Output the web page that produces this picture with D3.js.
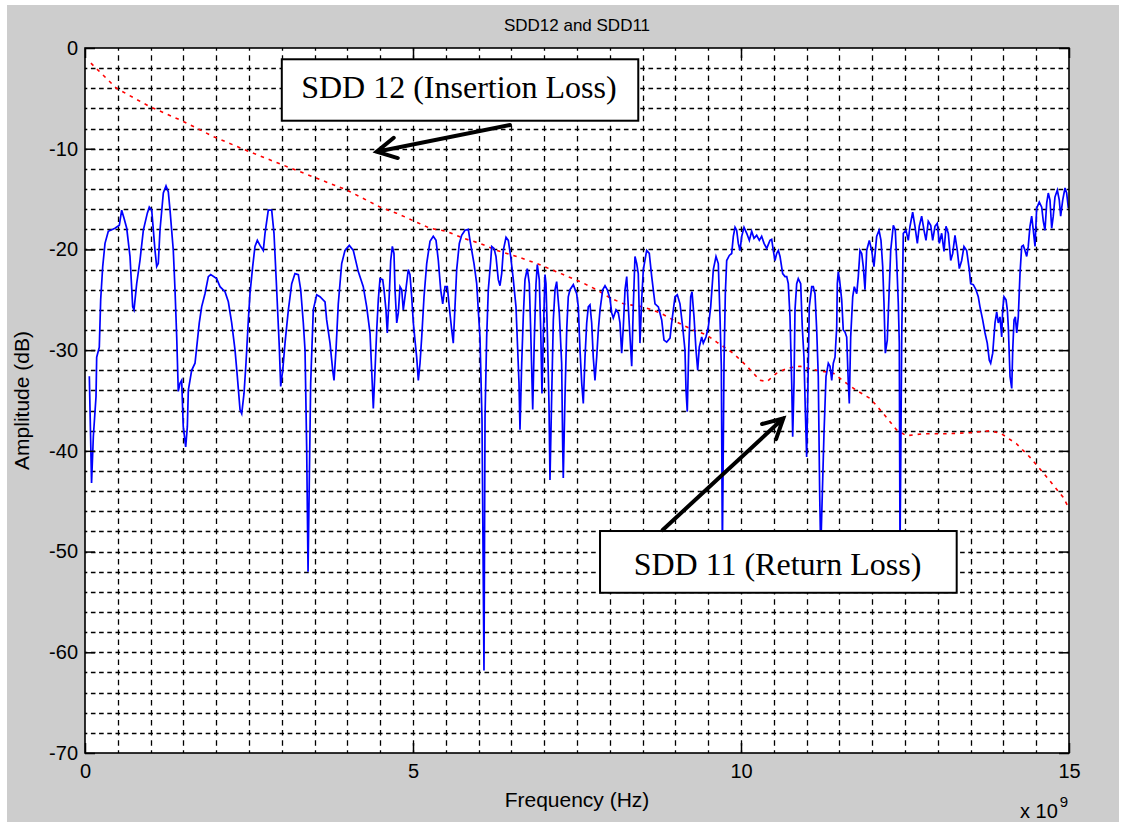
<!DOCTYPE html>
<html>
<head>
<meta charset="utf-8">
<script src="https://cdn.jsdelivr.net/npm/d3@7"></script>
<style>
  html, body { margin: 0; padding: 0; background: #fff; }
  svg { display: block; }
  .axis text { font-family: "Liberation Sans", Arial, sans-serif; font-size: 20px; fill: #000; }
  .axis line { stroke: #000; }
  .lbl { font-family: "Liberation Sans", Arial, sans-serif; fill: #000; }
  .note { font-family: "Liberation Serif", "Times New Roman", serif; font-size: 32px; fill: #000; }
</style>
</head>
<body>
<svg id="chart"></svg>
<script>
// tick labels (x in GHz, shown with the x 10^9 multiplier)
const xTicks = [0, 5, 10, 15];
const yTicks = [0, -10, -20, -30, -40, -50, -60, -70];
const gridStepX = 0.5, gridStepY = 2;

// SDD11 (return loss): frequency in GHz / amplitude in dB
const sdd11Freq = [
  0.066,0.100,0.127,0.168,0.178,0.218,0.239,0.270,0.305,0.355,
  0.457,0.523,0.559,0.595,0.636,0.686,0.727,0.747,0.788,0.838,
  0.889,0.950,0.980,1.017,1.067,1.093,1.117,1.143,1.194,1.235,
  1.270,1.296,1.346,1.372,1.398,1.422,1.448,1.474,1.498,1.535,
  1.560,1.575,1.626,1.677,1.703,1.742,1.778,1.829,1.880,1.916,
  2.007,2.058,2.134,2.185,2.236,2.287,2.322,2.363,2.389,2.424,
  2.454,2.490,2.515,2.556,2.591,2.627,2.668,2.718,2.744,2.794,
  2.846,2.881,2.922,2.962,2.983,3.014,3.049,3.100,3.151,3.201,
  3.252,3.288,3.328,3.354,3.379,3.400,3.440,3.480,3.532,3.582,
  3.659,3.684,3.735,3.776,3.796,3.826,3.861,3.913,3.963,4.029,
  4.090,4.166,4.242,4.294,4.345,4.370,4.395,4.421,4.447,4.471,
  4.497,4.538,4.558,4.588,4.608,4.639,4.660,4.685,4.710,4.726,
  4.752,4.776,4.802,4.828,4.852,4.878,4.928,4.954,4.980,5.005,
  5.030,5.056,5.081,5.107,5.133,5.168,5.209,5.259,5.309,5.351,
  5.386,5.422,5.453,5.488,5.523,5.553,5.590,5.614,5.640,5.666,
  5.706,5.742,5.793,5.843,5.869,5.895,5.930,5.971,5.995,6.021,
  6.037,6.052,6.062,6.082,6.098,6.123,6.148,6.184,6.200,6.235,
  6.265,6.300,6.326,6.352,6.377,6.418,6.453,6.489,6.529,6.570,
  6.590,6.616,6.631,6.657,6.681,6.707,6.742,6.773,6.794,6.825,
  6.849,6.875,6.895,6.925,6.947,6.966,6.986,7.012,7.027,7.047,
  7.073,7.088,7.114,7.139,7.165,7.190,7.230,7.266,7.282,7.291,
  7.317,7.343,7.367,7.393,7.444,7.495,7.520,7.546,7.572,7.596,
  7.622,7.648,7.672,7.698,7.724,7.748,7.774,7.800,7.825,7.851,
  7.892,7.927,7.962,8.003,8.029,8.053,8.095,8.130,8.155,8.181,
  8.206,8.232,8.258,8.282,8.308,8.334,8.358,8.384,8.410,8.434,
  8.460,8.486,8.511,8.562,8.602,8.639,8.689,8.740,8.791,8.826,
  8.867,8.918,8.943,8.994,9.029,9.070,9.111,9.146,9.162,9.181,
  9.203,9.233,9.253,9.284,9.314,9.340,9.364,9.401,9.425,9.466,
  9.502,9.538,9.578,9.619,9.654,9.680,9.700,9.716,9.741,9.761,
  9.782,9.822,9.858,9.883,9.909,9.934,9.959,9.985,10.011,10.046,
  10.087,10.127,10.163,10.198,10.239,10.279,10.315,10.351,10.392,10.442,
  10.468,10.492,10.518,10.544,10.569,10.595,10.635,10.671,10.697,10.721,
  10.747,10.773,10.788,10.808,10.823,10.849,10.873,10.910,10.934,10.960,
  10.980,11.001,11.021,11.041,11.078,11.102,11.128,11.154,11.178,11.200,
  11.215,11.265,11.296,11.331,11.357,11.383,11.407,11.433,11.459,11.468,
  11.483,11.509,11.535,11.559,11.585,11.611,11.636,11.651,11.672,11.703,
  11.727,11.764,11.788,11.814,11.840,11.864,11.890,11.916,11.956,11.992,
  12.027,12.068,12.104,12.134,12.160,12.180,12.200,12.230,12.251,12.282,
  12.322,12.352,12.373,12.398,12.413,12.424,12.450,12.474,12.515,12.550,
  12.576,12.617,12.652,12.688,12.718,12.754,12.790,12.820,12.855,12.892,
  12.922,12.957,12.992,13.023,13.059,13.095,13.125,13.160,13.197,13.227,
  13.262,13.297,13.328,13.364,13.399,13.440,13.480,13.501,13.541,13.582,
  13.617,13.643,13.684,13.720,13.754,13.785,13.806,13.837,13.872,13.898,
  13.922,13.948,13.974,13.989,14.009,14.040,14.060,14.075,14.101,14.127,
  14.142,14.162,14.182,14.203,14.227,14.253,14.279,14.303,14.329,14.355,
  14.379,14.405,14.431,14.456,14.482,14.507,14.547,14.584,14.608,14.634,
  14.660,14.684,14.710,14.736,14.760,14.786,14.822,14.852,14.873,14.904,
  14.939,14.964,14.990
];
const sdd11Db = [
  -32.6,-43.2,-38.6,-34.6,-30.7,-29.7,-25.0,-21.7,-19.4,-18.2,
  -17.9,-17.6,-16.1,-16.9,-17.9,-20.7,-25.7,-26.0,-23.4,-21.1,
  -18.1,-16.4,-15.8,-16.1,-20.1,-21.7,-21.4,-18.1,-14.4,-13.7,
  -14.3,-16.1,-20.1,-24.0,-28.7,-34.1,-33.3,-33.0,-37.6,-39.6,
  -37.6,-34.0,-32.0,-31.3,-29.7,-27.3,-25.7,-24.4,-22.7,-22.5,
  -22.9,-23.7,-24.2,-25.2,-27.3,-30.0,-32.6,-35.9,-36.3,-34.3,
  -31.3,-27.0,-24.4,-21.7,-19.7,-19.1,-19.6,-20.1,-18.4,-16.1,
  -16.1,-18.4,-24.0,-29.7,-33.6,-32.0,-29.3,-26.0,-23.4,-22.4,
  -22.5,-24.0,-27.3,-30.0,-39.6,-52.0,-33.3,-26.0,-24.5,-24.7,
  -25.2,-27.0,-29.3,-32.0,-33.0,-30.0,-25.4,-21.4,-20.1,-19.6,
  -20.1,-22.2,-23.7,-25.7,-28.3,-32.0,-35.8,-32.0,-28.0,-25.0,
  -22.9,-23.0,-24.0,-26.0,-28.3,-24.4,-21.1,-19.7,-20.4,-24.0,
  -27.3,-26.3,-23.7,-24.0,-26.0,-24.7,-22.0,-22.5,-24.7,-27.3,
  -29.0,-30.7,-33.0,-31.3,-28.7,-24.7,-21.4,-19.2,-18.7,-19.1,
  -21.1,-24.0,-25.4,-23.7,-23.7,-25.7,-28.0,-29.3,-25.7,-22.0,
  -19.4,-18.6,-18.1,-18.0,-19.1,-20.1,-21.4,-23.4,-26.0,-28.7,
  -33.0,-36.9,-45.2,-61.8,-36.6,-28.7,-24.0,-21.2,-19.7,-19.9,
  -20.7,-23.0,-23.6,-22.4,-20.1,-18.8,-19.1,-20.7,-23.0,-25.7,
  -29.0,-33.3,-37.9,-31.3,-26.7,-23.0,-21.9,-23.4,-28.0,-35.9,
  -29.0,-23.4,-21.5,-23.0,-28.0,-34.3,-28.7,-22.5,-23.4,-28.0,
  -35.3,-42.9,-34.6,-27.0,-24.0,-23.2,-26.3,-31.3,-39.6,-42.7,
  -34.6,-28.0,-24.7,-24.0,-23.5,-24.4,-25.7,-30.0,-33.3,-35.3,
  -30.7,-27.3,-25.7,-25.5,-27.3,-30.7,-33.0,-30.7,-28.0,-26.0,
  -24.0,-23.6,-24.0,-24.9,-26.3,-26.8,-26.0,-26.3,-27.3,-30.3,
  -27.7,-24.0,-22.7,-25.7,-28.7,-31.6,-25.7,-20.7,-21.4,-22.4,
  -29.3,-25.0,-22.0,-20.1,-20.4,-22.7,-25.4,-25.7,-27.0,-29.0,
  -29.2,-28.8,-27.3,-24.7,-24.5,-25.4,-27.7,-30.0,-34.0,-36.1,
  -30.0,-24.7,-24.2,-26.7,-30.0,-32.0,-29.7,-28.7,-29.3,-28.7,
  -27.7,-25.7,-22.0,-20.7,-21.4,-26.7,-31.6,-50.0,-31.3,-24.4,
  -21.1,-20.6,-20.4,-18.7,-17.8,-18.1,-19.4,-20.1,-18.7,-17.8,
  -18.4,-19.1,-18.2,-18.9,-18.6,-19.1,-18.7,-19.4,-19.9,-19.1,
  -19.0,-20.1,-21.1,-20.4,-20.1,-20.7,-22.4,-22.7,-22.7,-23.4,
  -26.7,-33.3,-38.6,-33.3,-26.0,-23.4,-22.9,-23.4,-27.7,-30.7,
  -35.9,-40.6,-33.3,-25.7,-23.7,-23.7,-24.4,-28.0,-32.6,-44.5,
  -50.0,-38.3,-32.6,-31.3,-31.6,-33.0,-31.3,-30.7,-27.7,-23.4,
  -22.2,-23.4,-25.0,-28.0,-28.2,-28.7,-33.3,-35.3,-28.7,-24.7,
  -23.7,-24.4,-22.7,-20.1,-20.4,-21.7,-24.0,-20.1,-19.1,-20.1,
  -21.7,-18.7,-18.1,-19.1,-21.7,-25.4,-30.3,-29.0,-25.4,-20.1,
  -17.6,-18.1,-21.1,-25.4,-29.3,-50.0,-28.7,-18.4,-18.1,-19.1,
  -17.7,-16.3,-17.7,-19.4,-17.7,-16.7,-18.1,-19.1,-17.2,-17.6,
  -19.1,-17.7,-17.4,-19.4,-18.4,-20.2,-17.7,-18.4,-21.1,-20.4,
  -18.6,-20.1,-21.9,-21.1,-19.7,-20.1,-22.0,-23.4,-23.5,-24.0,
  -24.7,-25.7,-27.0,-28.3,-29.3,-31.0,-31.3,-30.3,-27.3,-26.2,
  -27.3,-26.7,-28.7,-26.0,-24.7,-25.0,-26.0,-27.7,-32.6,-33.8,
  -30.0,-27.0,-26.7,-28.3,-26.7,-22.4,-19.7,-19.6,-20.1,-20.7,
  -19.7,-17.7,-16.7,-18.1,-19.7,-15.9,-15.3,-15.8,-17.2,-18.1,
  -15.4,-14.4,-15.1,-17.9,-16.7,-14.8,-14.1,-15.1,-16.7,-15.1,
  -13.9,-14.4,-15.9
];

// SDD12 (insertion loss)
const sdd12Freq = [0.09,0.48,0.98,1.47,1.96,2.47,2.97,3.48,3.99,4.50,4.75,5.26,5.51,5.77,6.02,6.28,6.58,6.89,
  7.29,7.55,7.80,8.00,8.21,8.51,8.77,9.02,9.27,9.48,9.63,9.88,10.09,10.29,10.40,10.54,10.70,10.90,11.15,11.41,
  11.61,11.76,11.97,12.17,12.37,12.52,12.78,13.13,13.49,13.80,13.97,14.20,14.40,14.61,14.91,15.00];
const sdd12Db = [-1.5,-4.0,-5.8,-7.2,-8.8,-10.2,-11.5,-12.8,-14.1,-15.8,-16.4,-17.9,-18.2,-18.9,-19.4,-20.1,-20.7,-21.4,
  -22.5,-23.2,-24.0,-24.8,-25.4,-25.7,-26.3,-27.2,-28.0,-28.5,-29.2,-30.3,-31.6,-33.0,-33.1,-32.3,-31.8,-31.6,-32.0,-32.3,
  -33.3,-34.0,-34.8,-36.3,-37.9,-38.5,-38.3,-38.3,-38.2,-38.0,-38.3,-39.3,-40.6,-42.2,-44.6,-45.7];

const noteTexts = ["SDD 12 (Insertion Loss)", "SDD 11 (Return Loss)"];

const W = 1123, H = 822;
const margin = { top: 48, right: 54, bottom: 69, left: 85 },
  width = W - margin.left - margin.right,
  height = H - margin.top - margin.bottom;

const x = d3.scaleLinear().domain([0, 15]).range([0, width]);
const y = d3.scaleLinear().domain([-70, 0]).range([height, 0]);

const svg = d3.select("#chart").attr("width", W).attr("height", H);

// figure background
svg.append("rect").attr("x", 7).attr("y", 5).attr("width", 1112).attr("height", H - 5).attr("fill", "#cdcdcd");

const chart = svg.append("g").attr("transform", "translate(" + margin.left + "," + margin.top + ")");

chart.append("rect").attr("width", width).attr("height", height).attr("fill", "#fff");

// dashed grid, dashes centred on the crossings
const cellW = x(gridStepX) - x(0), cellH = y(-gridStepY) - y(0);
const gx = d3.range(1, Math.round(15 / gridStepX)).map(i => i * gridStepX);
const gy = d3.range(1, Math.round(70 / gridStepY)).map(i => -i * gridStepY);

chart.append("g").selectAll("line").data(gx).join("line")
  .attr("x1", d => Math.round(x(d)) + 0.5).attr("x2", d => Math.round(x(d)) + 0.5)
  .attr("y1", 0).attr("y2", height)
  .attr("stroke", "#000").attr("stroke-width", 1.3)
  .attr("stroke-dasharray", "5.5," + (cellH / 2 - 5.5))
  .attr("stroke-dashoffset", 2.75);

chart.append("g").selectAll("line").data(gy).join("line")
  .attr("x1", 0).attr("x2", width)
  .attr("y1", d => Math.round(y(d)) + 0.5).attr("y2", d => Math.round(y(d)) + 0.5)
  .attr("stroke", "#000").attr("stroke-width", 1.3)
  .attr("stroke-dasharray", "4.6," + (cellW / 4 - 4.6))
  .attr("stroke-dashoffset", 2.3);

// lines
chart.append("clipPath").attr("id", "plotclip")
  .append("rect").attr("width", width).attr("height", height);

const lineOf = (fs, vs) => d3.line().x((d, i) => x(fs[i])).y((d, i) => y(vs[i]))(fs);

chart.append("path")
  .attr("d", lineOf(sdd12Freq, sdd12Db))
  .attr("clip-path", "url(#plotclip)")
  .attr("fill", "none")
  .attr("stroke", "#ff0000")
  .attr("stroke-width", 1.6)
  .attr("stroke-dasharray", "3.5,5");

chart.append("path")
  .attr("d", lineOf(sdd11Freq, sdd11Db))
  .attr("clip-path", "url(#plotclip)")
  .attr("fill", "none")
  .attr("stroke", "#0000ff")
  .attr("stroke-width", 1.7)
  .attr("stroke-linejoin", "miter");

// axes (ticks point inward on all four sides)
chart.append("g").attr("class", "axis").attr("transform", "translate(0," + height + ")")
  .call(d3.axisBottom(x).tickValues(xTicks).tickSizeInner(-10).tickSizeOuter(0).tickPadding(11).tickFormat(d3.format("d")));
chart.append("g").attr("class", "axis")
  .call(d3.axisTop(x).tickValues(xTicks).tickSizeInner(-10).tickSizeOuter(0).tickFormat(""));
chart.append("g").attr("class", "axis")
  .call(d3.axisLeft(y).tickValues(yTicks).tickSizeInner(-10).tickSizeOuter(0).tickPadding(7).tickFormat(d3.format("d")));
chart.append("g").attr("class", "axis").attr("transform", "translate(" + width + ",0)")
  .call(d3.axisRight(y).tickValues(yTicks).tickSizeInner(-10).tickSizeOuter(0).tickFormat(""));
chart.selectAll(".axis .domain").remove();
chart.selectAll(".axis line").attr("stroke-width", 1.5);
chart.selectAll(".axis text").text(function () { return this.textContent.replace("\u2212", "-"); });

chart.append("rect").attr("width", width).attr("height", height)
  .attr("fill", "none").attr("stroke", "#000").attr("stroke-width", 1.6);

// titles
svg.append("text").attr("class", "lbl").attr("x", margin.left + width / 2).attr("y", 31)
  .attr("text-anchor", "middle").attr("font-size", 17).text("SDD12 and SDD11");
svg.append("text").attr("class", "lbl").attr("x", margin.left + width / 2).attr("y", 807)
  .attr("text-anchor", "middle").attr("font-size", 21).text("Frequency (Hz)");
svg.append("text").attr("class", "lbl")
  .attr("transform", "translate(29," + (margin.top + height / 2) + ") rotate(-90)")
  .attr("text-anchor", "middle").attr("font-size", 21).text("Amplitude (dB)");
const mult = svg.append("text").attr("class", "lbl").attr("x", 1020).attr("y", 818).attr("font-size", 20);
mult.append("tspan").text("x 10");
mult.append("tspan").attr("dy", -11).attr("dx", 2).attr("font-size", 15).text("9");

// annotations, placed in data units
const notes = chart.append("g");
function noteBox(f0, f1, dbTop, dbBot, textF, textDb, label) {
  notes.append("rect")
    .attr("x", x(f0)).attr("y", y(dbTop))
    .attr("width", x(f1) - x(f0)).attr("height", y(dbBot) - y(dbTop))
    .attr("fill", "#fff").attr("stroke", "#000").attr("stroke-width", 2);
  notes.append("text").attr("class", "note")
    .attr("x", x(textF)).attr("y", y(textDb))
    .attr("text-anchor", "middle").text(label);
}
function arrow(tail, tip) {
  const x1 = x(tail[0]), y1 = y(tail[1]), x2 = x(tip[0]), y2 = y(tip[1]);
  const a = Math.atan2(y1 - y2, x1 - x2), L = 22, t = 28 * Math.PI / 180;
  notes.append("path")
    .attr("d", "M" + x1 + "," + y1 + "L" + x2 + "," + y2 +
      "M" + (x2 + L * Math.cos(a + t)) + "," + (y2 + L * Math.sin(a + t)) +
      "L" + x2 + "," + y2 +
      "L" + (x2 + L * Math.cos(a - t)) + "," + (y2 + L * Math.sin(a - t)))
    .attr("fill", "none").attr("stroke", "#000").attr("stroke-width", 4)
    .attr("stroke-linecap", "round").attr("stroke-linejoin", "miter");
}

noteBox(3.0, 8.434, -1.12, -7.22, 5.70, -5.0, noteTexts[0]);
arrow([6.479, -7.65], [4.447, -10.3]);
noteBox(7.851, 13.288, -47.96, -54.09, 10.556, -52.33, noteTexts[1]);
arrow([8.806, -47.86], [10.645, -36.77]);
</script>
</body>
</html>
